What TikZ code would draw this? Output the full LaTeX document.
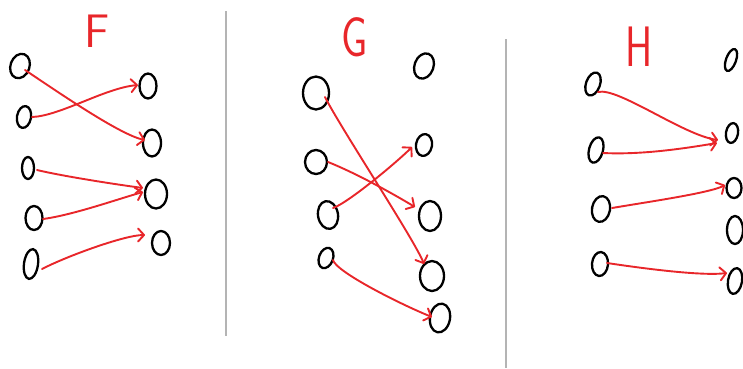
\documentclass[tikz,border=0pt]{standalone}
\usetikzlibrary{shapes.geometric,arrows.meta}
\definecolor{pen}{HTML}{E8262A}
\definecolor{divgray}{HTML}{B4B4B4}
\begin{document}
\begin{tikzpicture}[x=1pt,y=-1pt,
  dot/.style={ellipse,draw=black,line width=2.3pt,inner sep=0pt},
  link/.style={draw=pen,line width=1.9pt,line cap=round,-{Straight Barb[length=6pt,width=13pt,round]}},
  divider/.style={draw=divgray,line width=1.3pt},
  title/.style={text=pen,inner sep=0pt}]
\useasboundingbox (0,0) rectangle (743,368);

% dividers
\coordinate (d1a) at (226,11); \coordinate (d1b) at (226,336);
\coordinate (d2a) at (506,39); \coordinate (d2b) at (506,368);
\draw[divider] (d1a) -- (d1b);
\draw[divider] (d2a) -- (d2b);

% titles
\node[title,font=\sffamily\fontsize{47}{47}\selectfont] (tF) at (97,31) {F};
\node[title,font=\sffamily\fontsize{56}{56}\selectfont,xscale=0.75] (tG) at (355,37) {G};
\node[title,font=\sffamily\fontsize{57}{57}\selectfont,xscale=0.72] (tH) at (639,47) {H};

% ---- panel F ----
\node[dot,minimum width=19pt,minimum height=25pt,rotate=-20] (fL1) at (20,66) {};
\node[dot,minimum width=14pt,minimum height=22pt,rotate=-10] (fL2) at (24,117) {};
\node[dot,minimum width=12pt,minimum height=22pt] (fL3) at (28,168) {};
\node[dot,minimum width=17pt,minimum height=24pt] (fL4) at (34,218) {};
\node[dot,minimum width=14pt,minimum height=30pt,rotate=-8] (fL5) at (31,264) {};
\node[dot,minimum width=17pt,minimum height=25pt] (fR1) at (148,86) {};
\node[dot,minimum width=18pt,minimum height=27pt] (fR2) at (152,143) {};
\node[dot,minimum width=22pt,minimum height=29pt] (fR3) at (156,194) {};
\node[dot,minimum width=18pt,minimum height=24pt] (fR4) at (161,243) {};

\draw[link] ([shift={(5,4)}]fL1.center) .. controls +(30,20) and +(-25,-5) .. ([shift={(-7,-3)}]fR2.center);
\draw[link] ([shift={(8,0)}]fL2.center) .. controls +(28,-1) and +(-33,3) .. ([shift={(-10,-1)}]fR1.center);
\draw[link] ([shift={(9,2)}]fL3.center) .. controls +(25,6) and +(-30,-4) .. ([shift={(-13,-6)}]fR3.center);
\draw[link] ([shift={(9,1)}]fL4.center) .. controls +(30,-4) and +(-25,7) .. ([shift={(-13,-2)}]fR3.center);
\draw[link] ([shift={(11,5)}]fL5.center) .. controls +(25,-13) and +(-20,0) .. ([shift={(-16,-8)}]fR4.center);

% ---- panel G ----
\node[dot,minimum width=26pt,minimum height=33pt] (gL1) at (316,93) {};
\node[dot,minimum width=22pt,minimum height=24pt] (gL2) at (316,162) {};
\node[dot,minimum width=20pt,minimum height=28pt,rotate=10] (gL3) at (328,215) {};
\node[dot,minimum width=14pt,minimum height=21pt,rotate=-20] (gL4) at (326,258) {};
\node[dot,minimum width=19pt,minimum height=26pt,rotate=-20] (gR1) at (424,66) {};
\node[dot,minimum width=16pt,minimum height=22pt,rotate=-10] (gR2) at (424,145) {};
\node[dot,minimum width=22pt,minimum height=30pt] (gR3) at (430,216) {};
\node[dot,minimum width=24pt,minimum height=30pt] (gR4) at (432,276) {};
\node[dot,minimum width=20pt,minimum height=29pt,rotate=-10] (gR5) at (440,318) {};

\draw[link] ([shift={(9,4)}]gL1.center) .. controls +(15,30) and +(-10,-25) .. ([shift={(-8,-12)}]gR4.center);
\draw[link] ([shift={(12,0)}]gL2.center) .. controls +(30,12) and +(-20,-12) .. ([shift={(-15,-9)}]gR3.center);
\draw[link] ([shift={(5,-7)}]gL3.center) .. controls +(15,-5) and +(-15,15) .. ([shift={(-12,2)}]gR2.center);
\draw[link] ([shift={(7,2)}]gL4.center) .. controls +(3,12) and +(-30,-12) .. ([shift={(-8,-1)}]gR5.center);

% ---- panel H ----
\node[dot,minimum width=14pt,minimum height=24pt,rotate=-20] (hL1) at (593,84) {};
\node[dot,minimum width=14pt,minimum height=26pt,rotate=-15] (hL2) at (596,150) {};
\node[dot,minimum width=18pt,minimum height=26pt,rotate=-10] (hL3) at (601,209) {};
\node[dot,minimum width=16pt,minimum height=24pt,rotate=-5] (hL4) at (600,264) {};
\node[dot,minimum width=10pt,minimum height=23pt,rotate=-20] (hR1) at (731,60) {};
\node[dot,minimum width=12pt,minimum height=20pt,rotate=-10] (hR2) at (732,133) {};
\node[dot,minimum width=15pt,minimum height=20pt] (hR3) at (734,188) {};
\node[dot,minimum width=16pt,minimum height=28pt] (hR4) at (735,230) {};
\node[dot,minimum width=14pt,minimum height=26pt,rotate=-10] (hR5) at (735,281) {};

\draw[link] ([shift={(5,8)}]hL1.center) .. controls +(20,-5) and +(-35,-5) .. ([shift={(-14,7)}]hR2.center);
\draw[link] ([shift={(7,3)}]hL2.center) .. controls +(40,2) and +(-30,5) .. ([shift={(-15,10)}]hR2.center);
\draw[link] ([shift={(11,-1)}]hL3.center) .. controls +(35,-6) and +(-15,8) .. ([shift={(-9,-3)}]hR3.center);
\draw[link] ([shift={(7,-1)}]hL4.center) .. controls +(40,6) and +(-25,3) .. ([shift={(-8,-8)}]hR5.center);
\end{tikzpicture}
\end{document}
